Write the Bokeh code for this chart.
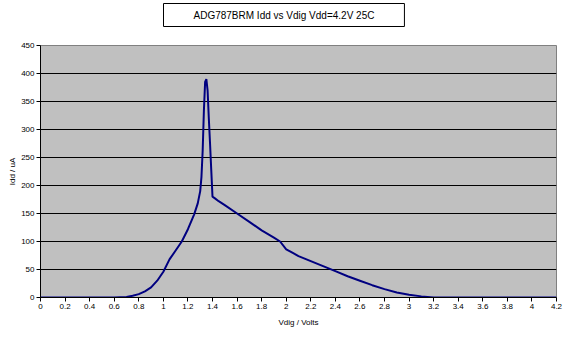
from bokeh.plotting import figure
from bokeh.models import ColumnDataSource, FixedTicker, Legend, LegendItem, Range1d, Title
from bokeh.embed import file_html
from bokeh.resources import INLINE

title_text = "ADG787BRM Idd vs Vdig Vdd=4.2V 25C"
x_label = "Vdig / Volts"
y_label = "Idd / uA"
series_name = "Idd"

vdig = [0, 0.2, 0.4, 0.6, 0.7, 0.75, 0.8, 0.85, 0.9, 0.95, 1.0, 1.05, 1.1, 1.15,
        1.2, 1.25, 1.28, 1.3, 1.31, 1.32, 1.33, 1.34, 1.35, 1.36, 1.37, 1.38,
        1.39, 1.40, 1.42, 1.45, 1.5, 1.6, 1.7, 1.8, 1.9, 1.95, 2.0, 2.05, 2.1,
        2.2, 2.3, 2.4, 2.5, 2.6, 2.7, 2.8, 2.9, 3.0, 3.1, 3.2, 3.6, 4.0, 4.2]
idd = [0, 0, 0, 0, 1, 3, 6, 11, 18, 30, 46, 68, 84, 100,
       122, 148, 168, 190, 215, 262, 334, 385, 390, 370, 320, 275,
       227, 180, 177, 172, 165, 150, 135, 120, 107, 100, 86, 80, 74,
       65, 56, 47, 38, 30, 22, 15, 9, 5, 2, 0, 0, 0, 0]

x_ticks = [round(i * 0.2, 1) for i in range(22)]
x_tick_labels = ["0", "0.2", "0.4", "0.6", "0.8", "1", "1.2", "1.4", "1.6", "1.8", "2",
                 "2.2", "2.4", "2.6", "2.8", "3", "3.2", "3.4", "3.6", "3.8", "4", "4.2"]
y_ticks = [0, 50, 100, 150, 200, 250, 300, 350, 400, 450]

FONT = "Liberation Sans"

p = figure(frame_width=516, frame_height=252, output_backend="svg", toolbar_location=None,
           x_range=Range1d(0, 4.2), y_range=Range1d(0, 450),
           min_border_left=40, min_border_right=14, min_border_top=0, min_border_bottom=0)
p.background_fill_color = "#C0C0C0"
p.border_fill_color = "white"
p.outline_line_color = "#808080"

src = ColumnDataSource(dict(x=vdig, y=idd))
r = p.line("x", "y", source=src, line_color="#000080", line_width=2)

p.title.text = title_text
p.title.align = "left"
p.title.offset = 123
p.title.text_font = FONT
p.title.text_font_size = "10px"
p.title.text_font_style = "normal"
p.title.text_color = "black"
p.title.background_fill_color = "white"
p.title.border_line_color = "black"
p.title.border_line_width = 1
p.title.padding = (30, 6)
p.title.standoff = 2

spacer = Title(text=" ", text_font_size="1px", standoff=15)
p.add_layout(spacer, "above")

p.xgrid.grid_line_color = None
p.ygrid.grid_line_color = "black"
p.ygrid.grid_line_width = 1
p.ygrid.ticker = FixedTicker(ticks=y_ticks)

p.xaxis.ticker = FixedTicker(ticks=x_ticks)
p.xaxis.major_label_overrides = {t: s for t, s in zip(x_ticks, x_tick_labels)}
p.yaxis.ticker = FixedTicker(ticks=y_ticks)

for ax in (p.xaxis[0], p.yaxis[0]):
    ax.axis_line_color = "black"
    ax.major_tick_line_color = "black"
    ax.major_tick_out = 4
    ax.major_tick_in = 0
    ax.minor_tick_line_color = None
    ax.major_label_text_font = FONT
    ax.major_label_text_font_size = "8px"
    ax.major_label_text_color = "black"
    ax.axis_label_text_font = FONT
    ax.axis_label_text_font_size = "8px"
    ax.axis_label_text_font_style = "normal"
    ax.axis_label_text_color = "black"

p.xaxis.axis_label = x_label
p.yaxis.axis_label = y_label
p.xaxis.major_label_standoff = 2
p.xaxis.axis_label_standoff = 6
p.yaxis.major_label_standoff = 2
p.yaxis.axis_label_standoff = 1

legend = Legend(items=[LegendItem(label=series_name, renderers=[r])],
                location="top_center", orientation="horizontal",
                border_line_color="black", border_line_width=1,
                background_fill_color="white", background_fill_alpha=1,
                label_text_font=FONT, label_text_font_size="8px",
                glyph_width=17, glyph_height=8, label_standoff=2,
                padding=1, margin=4, spacing=0, label_height=8)
p.add_layout(legend, "below")

open("out.html", "w").write(file_html(p, INLINE))
